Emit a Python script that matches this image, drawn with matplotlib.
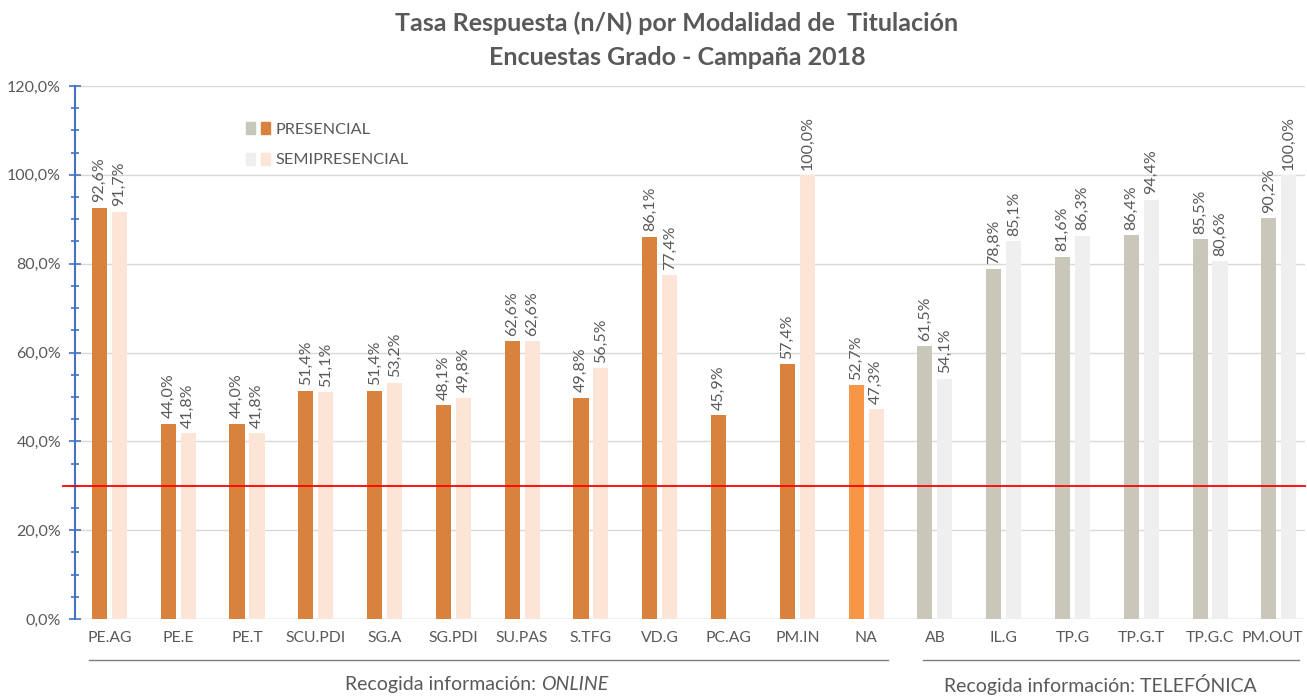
import matplotlib
matplotlib.use("Agg")
import matplotlib.pyplot as plt
import numpy as np
from matplotlib.patches import Patch
from matplotlib.legend_handler import HandlerTuple
from matplotlib.ticker import MultipleLocator, FuncFormatter
import matplotlib.transforms as mtransforms

plt.rcParams["font.family"] = ["Lato", "DejaVu Sans"]

# data
categories = ["PE.AG", "PE.E", "PE.T", "SCU.PDI", "SG.A", "SG.PDI", "SU.PAS", "S.TFG",
              "VD.G", "PC.AG", "PM.IN", "NA", "AB", "IL.G", "TP.G", "TP.G.T",
              "TP.G.C", "PM.OUT"]
presencial = [92.6, 44.0, 44.0, 51.4, 51.4, 48.1, 62.6, 49.8, 86.1, 45.9, 57.4, 52.7,
              61.5, 78.8, 81.6, 86.4, 85.5, 90.2]
semipresencial = [91.7, 41.8, 41.8, 51.1, 53.2, 49.8, 62.6, 56.5, 77.4, None, 100.0, 47.3,
                  54.1, 85.1, 86.3, 94.4, 80.6, 100.0]
n_online = 12
threshold = 30

grey_txt = "#595959"
c_orange = "#D9823E"
c_orange_na = "#F79646"
c_orange_lt = "#FCE4D6"
c_grey = "#C9C7B9"
c_grey_lt = "#EFEFEF"


def pct(v):
    return f"{v:.1f}".replace(".", ",") + "%"


fig = plt.figure(figsize=(13.07, 6.96), dpi=100)
ax = fig.add_axes([75 / 1307, 1 - 619 / 696, 1230 / 1307, 533 / 696])

x = np.arange(len(categories))
w = 0.22
off = 0.145
for i, cat in enumerate(categories):
    online = i < n_online
    c1 = c_orange if online else c_grey
    if cat == "NA":
        c1 = c_orange_na
    c2 = c_orange_lt if online else c_grey_lt
    p = presencial[i]
    s = semipresencial[i]
    ax.bar(x[i] - off, p, width=w, color=c1, zorder=2)
    ax.text(x[i] - off, p + 1.2, pct(p), rotation=90, ha="center", va="bottom",
            fontsize=11.5, color=grey_txt)
    if s is not None:
        ax.bar(x[i] + off, s, width=w, color=c2, zorder=2)
        ax.text(x[i] + off, s + 1.2, pct(s), rotation=90, ha="center", va="bottom",
                fontsize=11.5, color=grey_txt)

ax.axhline(threshold, xmin=-0.01, color="#FF0000", lw=1.3, zorder=3, clip_on=False)

ax.set_ylim(0, 120)
ax.set_xlim(-0.5, 17.38)
ax.yaxis.set_major_locator(MultipleLocator(20))
ax.yaxis.set_minor_locator(MultipleLocator(5))
ax.yaxis.set_major_formatter(FuncFormatter(lambda v, _: pct(v)))
ax.grid(axis="y", color="#D9D9D9", lw=1, zorder=0)
for sp in ["top", "right", "bottom"]:
    ax.spines[sp].set_visible(False)
ax.spines["left"].set_color("#4472C4")
ax.spines["left"].set_linewidth(1.5)
ax.axhline(0, color="#D9D9D9", lw=1, zorder=1)
ax.tick_params(axis="y", which="both", direction="inout", color="#4472C4",
               labelsize=11.5, labelcolor=grey_txt, pad=6)
ax.tick_params(axis="y", which="major", length=8, width=1.2)
ax.tick_params(axis="y", which="minor", length=6, width=1.2)
ax.set_xticks(x)
ax.set_xticklabels(categories, fontsize=11.3, color=grey_txt)
ax.tick_params(axis="x", length=0, pad=9)
# last label is nudged left so it stays inside the figure, like the original
last = ax.get_xticklabels()[-1]
last.set_transform(last.get_transform()
                   + mtransforms.ScaledTranslation(-0.07, 0, fig.dpi_scale_trans))

# group brackets under the categories
trans = mtransforms.blended_transform_factory(ax.transData, ax.transAxes)
ax.plot([-0.3, n_online - 0.68], [-0.077, -0.077], color="#7F7F7F", lw=1,
        transform=trans, clip_on=False)
ax.plot([n_online - 0.17, 17.3], [-0.077, -0.077], color="#7F7F7F", lw=1,
        transform=trans, clip_on=False)
ax.text(6.28, -0.122, "Recogida información: ", ha="right", va="center",
        fontsize=14, color=grey_txt, transform=trans)
ax.text(6.28, -0.122, "ONLINE", ha="left", va="center", fontsize=14,
        color=grey_txt, style="italic", transform=trans)
ax.text(14.4, -0.122, "Recogida información: TELEFÓNICA", ha="center",
        va="center", fontsize=14, color=grey_txt, transform=trans)

fig.text(0.518, 0.967, "Tasa Respuesta (n/N) por Modalidad de  Titulación",
         ha="center", va="center", fontsize=18, fontweight="bold", color=grey_txt)
fig.text(0.518, 0.918, "Encuestas Grado - Campaña 2018",
         ha="center", va="center", fontsize=18, fontweight="bold", color=grey_txt)

handles = [(Patch(color=c_grey), Patch(color=c_orange)),
           (Patch(color=c_grey_lt), Patch(color=c_orange_lt))]
ax.legend(handles, ["PRESENCIAL", "SEMIPRESENCIAL"],
          handler_map={tuple: HandlerTuple(ndivide=None, pad=0.4)},
          loc="upper left", bbox_to_anchor=(0.127, 0.96), frameon=False,
          fontsize=11.7, labelcolor=grey_txt, handlelength=1.5, handleheight=0.75,
          handletextpad=0.3, labelspacing=1.0)

fig.savefig("out.png", dpi=100)
